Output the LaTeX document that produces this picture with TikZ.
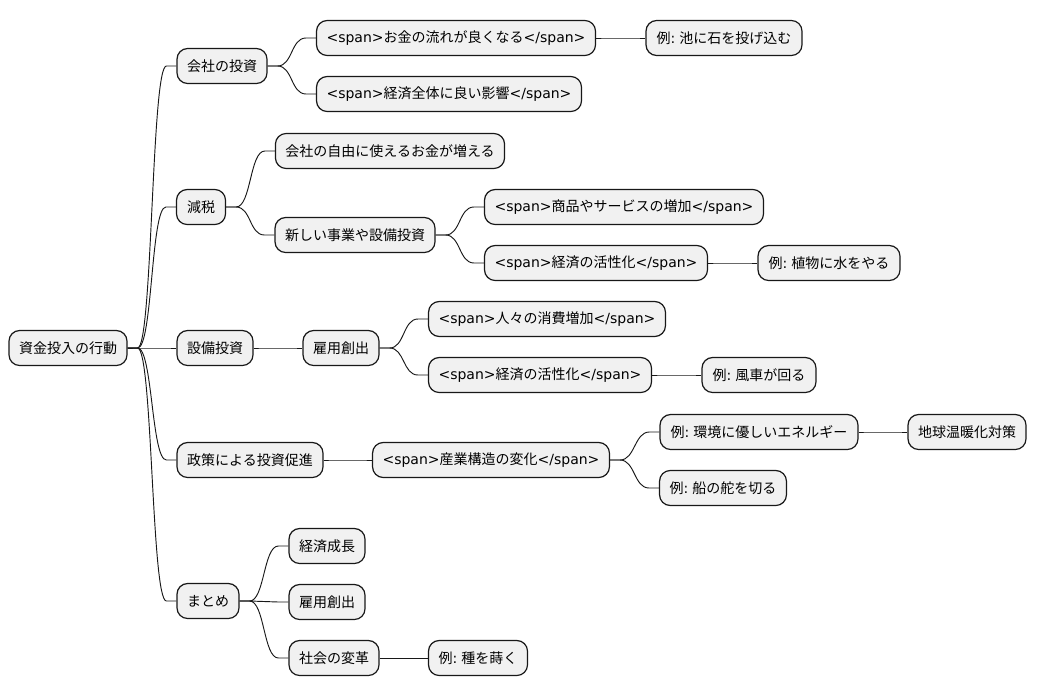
\documentclass[tikz,border=0pt]{standalone}
\usepackage{fontspec}
\setmainfont{Noto Sans CJK JP}
\newfontfamily\latfont{DejaVu Sans}
\usetikzlibrary{calc}
\definecolor{boxfill}{RGB}{241,241,241}
\definecolor{boxline}{RGB}{24,24,24}
\newcommand\spo{{\latfont <span>}}
\newcommand\spc{{\latfont </span>}}

\begin{document}
\begin{tikzpicture}[x=0.75pt, y=-0.75pt,
    idea/.style={draw=boxline, fill=boxfill, line width=0.9pt, rounded corners=8pt,
      minimum height=26.25pt, inner xsep=7.5pt, font=\fontsize{10.5}{12}\selectfont},
    bw/.style={minimum width={#1*0.75pt}},
    link/.style={draw=boxline, line width=0.7pt}]
    \useasboundingbox (0,0) rectangle (1037,696);

    % root
    \node[idea, bw=117] (root) at (68,348) {資金投入の行動};

    % company investment
    \node[idea, bw=279] (flow) at (456,38) {\spo お金の流れが良くなる\spc};
    \node[idea, bw=90] (inv) at (222,66) {会社の投資};
    \node[idea, bw=156] (pond) at (724,38) {例{\latfont:} 池に石を投げ込む};
    \node[idea, bw=265] (whole) at (449,94) {\spo 経済全体に良い影響\spc};

    % tax cut
    \node[idea, bw=49] (tax) at (201,207) {減税};
    \node[idea, bw=229] (free) at (390,151) {会社の自由に使えるお金が増える};
    \node[idea, bw=159] (newbiz) at (355,235) {新しい事業や設備投資};
    \node[idea, bw=279] (goods) at (624,207) {\spo 商品やサービスの増加\spc};
    \node[idea, bw=223] (act1) at (596,263) {\spo 経済の活性化\spc};
    \node[idea, bw=142] (plant) at (829,263) {例{\latfont:} 植物に水をやる};

    % equipment
    \node[idea, bw=76] (equip) at (215,348) {設備投資};
    \node[idea, bw=76] (job1) at (341,348) {雇用創出};
    \node[idea, bw=236] (cons) at (547,319) {\spo 人々の消費増加\spc};
    \node[idea, bw=223] (act2) at (540,375) {\spo 経済の活性化\spc};
    \node[idea, bw=114] (mill) at (759,375) {例{\latfont:} 風車が回る};

    % policy
    \node[idea, bw=146] (policy) at (250,460) {政策による投資促進};
    \node[idea, bw=236] (indus) at (491,460) {\spo 産業構造の変化\spc};
    \node[idea, bw=198] (eco) at (759,432) {例{\latfont:} 環境に優しいエネルギー};
    \node[idea, bw=118] (warm) at (967,432) {地球温暖化対策};
    \node[idea, bw=126] (rudder) at (723,488) {例{\latfont:} 船の舵を切る};

    % summary
    \node[idea, bw=62] (sum) at (208,601) {まとめ};
    \node[idea, bw=76] (growth) at (327,546) {経済成長};
    \node[idea, bw=76] (job2) at (327,602) {雇用創出};
    \node[idea, bw=90] (soc) at (334,658) {社会の変革};
    \node[idea, bw=99] (seed) at (478,658) {例{\latfont:} 種を蒔く};

    % branches
    \foreach \a/\b in {root/inv, root/tax, root/equip, root/policy, root/sum,
        inv/flow, inv/whole, flow/pond,
        tax/free, tax/newbiz, newbiz/goods, newbiz/act1, act1/plant,
        equip/job1, job1/cons, job1/act2, act2/mill,
        policy/indus, indus/eco, indus/rudder, eco/warm,
        sum/growth, sum/job2, sum/soc, soc/seed}
      \draw[link] (\a.east) -- ++(10,0) .. controls +(15,0) and +(-15,0) .. ($(\b.west)+(-10,0)$) -- (\b.west);
\end{tikzpicture}
\end{document}
